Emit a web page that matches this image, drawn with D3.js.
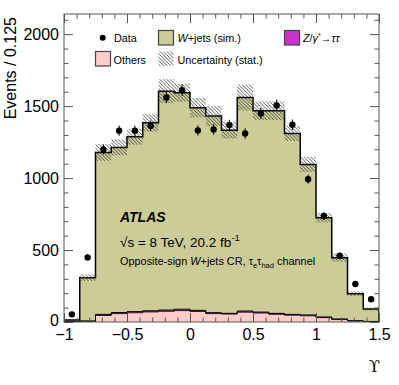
<!DOCTYPE html>
<html><head><meta charset="utf-8">
<script src="https://cdn.jsdelivr.net/npm/d3@7/dist/d3.min.js"></script>
<style>body{margin:0;background:#fff}svg{display:block;font-family:"Liberation Sans",Arial,Helvetica,sans-serif}</style>
</head><body><svg id="c" width="399" height="385"></svg>
<script>
// ---- data ----
const binLow = [-1,-0.875,-0.75,-0.625,-0.5,-0.375,-0.25,-0.125,0,0.125,0.25,0.375,0.5,0.625,0.75,0.875,1,1.125,1.25,1.375];
const binWidth = 0.125;
const others = [3,5,45,58,64,70,74,79,73,58,55,68,62,53,47,43,30,17,7,3];
const zjets  = [1,2,8,8,8,8,9,10,8,7,5,8,7,7,6,6,5,4,2,1];
const wjets  = [10,301,1125,1147,1215,1306,1521,1504,1407,1366,1273,1484,1399,1408,1257,1046,689,426,188,86];
const mcUnc  = [5,23,58,55,55,60,83,63,67,70,58,90,65,65,52,52,32,28,16,10];
const dataVals = [53,449,1199,1329,1329,1363,1560,1611,1331,1338,1368,1310,1449,1505,1370,992,736,460,264,158];
const dataErr  = [7,21,35,36,36,37,39,40,36,37,37,36,38,39,37,31,27,21,16,13];
const yTicks = [0,500,1000,1500,2000];
const yTickLabels = ["0","500","1000","1500","2000"];
const xTicks = [-1,-0.5,0,0.5,1,1.5];
const xTickLabels = ["\u22121","\u22120.5","0","0.5","1","1.5"];

const colW = "#cccc99", colO = "#ffcccc", colZ = "#cc33cc";

const svg = d3.select("#c");
const L=64, R=379, T=14, B=322;
const x = d3.scaleLinear().domain([-1,1.5]).range([L,R]);
const y = d3.scaleLinear().domain([0,2140]).range([B,T]);

const defs = svg.append("defs");
const pat = defs.append("pattern").attr("id","hatch").attr("patternUnits","userSpaceOnUse")
  .attr("width",3.5).attr("height",3.5);
pat.append("path").attr("d","M0,0 L3.5,3.5 M-1,2.5 L1,4.5 M2.5,-1 L4.5,1")
  .attr("stroke","#333").attr("stroke-width",0.8);
defs.append("clipPath").attr("id","clip").append("rect").attr("x",L).attr("y",T).attr("width",R-L).attr("height",B-T);

// stacked layers
const bins = binLow.map((lo,i)=>{
  const o = others[i], z = o + zjets[i], t = z + wjets[i];
  return {lo, hi: lo+binWidth, o, z, t, unc: mcUnc[i], d: dataVals[i], e: dataErr[i]};
});
function stepPts(b0, b1){
  const pts=[];
  bins.forEach(b=>{pts.push({x:b.lo,y0:b0(b),y1:b1(b)});pts.push({x:b.hi,y0:b0(b),y1:b1(b)});});
  return pts;
}
const area = d3.area().x(p=>x(p.x)).y0(p=>y(p.y0)).y1(p=>y(p.y1));
const g = svg.append("g").attr("clip-path","url(#clip)");
const layers = [
  {b0:b=>0, b1:b=>b.o, fill:colO, sw:0.8},
  {b0:b=>b.o, b1:b=>b.z, fill:colZ, sw:1},
  {b0:b=>b.z, b1:b=>b.t, fill:colW, sw:1.5}
];
layers.forEach(l=>{
  const pts = stepPts(l.b0,l.b1);
  g.append("path").attr("d",area(pts)).attr("fill",l.fill).attr("stroke","none");
});
layers.forEach(l=>{
  const pts = [{x:-1,v:0}].concat(stepPts(l.b0,l.b1).map(p=>({x:p.x,v:p.y1}))).concat([{x:1.5,v:0}]);
  g.append("path").attr("d",d3.line().x(p=>x(p.x)).y(p=>y(p.v))(pts))
    .attr("fill","none").attr("stroke","#000").attr("stroke-width",l.sw);
});
// uncertainty band
g.selectAll("rect.unc").data(bins).join("rect").attr("class","unc")
  .attr("x",b=>x(b.lo)).attr("width",b=>x(b.hi)-x(b.lo))
  .attr("y",b=>y(b.t+b.unc)).attr("height",b=>y(b.t-b.unc)-y(b.t+b.unc))
  .attr("fill","url(#hatch)");

// axes (ticks inside)
function axisG(axis, tr){ return svg.append("g").attr("transform",tr).call(axis); }
const styleAx = sel => { sel.select(".domain").remove(); sel.selectAll("line").attr("stroke","#555"); };
const fmtY = (d,i)=>yTickLabels[i];
const fmtX = (d,i)=>xTickLabels[i];
const yMinor = d3.range(0,2140,100).filter(v=>v%500);
const xMinor = d3.range(-1,1.5001,0.1).filter(v=>Math.abs(v*2-Math.round(v*2))>1e-6);

let a;
a = axisG(d3.axisLeft(y).tickValues(yTicks).tickFormat(fmtY).tickSize(-9).tickPadding(5), `translate(${L},0)`); styleAx(a);
a.selectAll("text").attr("font-size",16).attr("fill","#000").attr("font-family","Liberation Sans, Arial");
a.selectAll("text").filter(d=>d===0).attr("dy","0.22em");
a = axisG(d3.axisLeft(y).tickValues(yMinor).tickFormat("").tickSize(-4.5), `translate(${L},0)`); styleAx(a);
a = axisG(d3.axisRight(y).tickValues(yTicks).tickFormat("").tickSize(-9), `translate(${R},0)`); styleAx(a);
a = axisG(d3.axisRight(y).tickValues(yMinor).tickFormat("").tickSize(-4.5), `translate(${R},0)`); styleAx(a);
a = axisG(d3.axisBottom(x).tickValues(xTicks).tickFormat(fmtX).tickSize(-9).tickPadding(7), `translate(0,${B})`); styleAx(a);
a.selectAll("text").attr("font-size",16).attr("fill","#000").attr("font-family","Liberation Sans, Arial");
a = axisG(d3.axisBottom(x).tickValues(xMinor).tickFormat("").tickSize(-4.5), `translate(0,${B})`); styleAx(a);
a = axisG(d3.axisTop(x).tickValues(xTicks).tickFormat("").tickSize(-9), `translate(0,${T})`); styleAx(a);
a = axisG(d3.axisTop(x).tickValues(xMinor).tickFormat("").tickSize(-4.5), `translate(0,${T})`); styleAx(a);
svg.append("rect").attr("x",L).attr("y",T).attr("width",R-L).attr("height",B-T)
  .attr("fill","none").attr("stroke","#555").attr("stroke-width",1);

// data points
const dg = svg.append("g");
dg.selectAll("line").data(bins).join("line")
  .attr("x1",b=>x(b.lo+binWidth/2)).attr("x2",b=>x(b.lo+binWidth/2))
  .attr("y1",b=>y(b.d-b.e)).attr("y2",b=>y(b.d+b.e)).attr("stroke","#000").attr("stroke-width",1);
dg.selectAll("circle").data(bins).join("circle")
  .attr("cx",b=>x(b.lo+binWidth/2)).attr("cy",b=>y(b.d)).attr("r",3.2).attr("fill","#000");

// axis titles
svg.append("text").attr("transform","translate(16,17) rotate(-90)").attr("text-anchor","end")
  .attr("font-size",16).text("Events / 0.125");
svg.append("text").attr("x",380).attr("y",372).attr("text-anchor","end")
  .attr("font-family","DejaVu Serif, Liberation Serif, serif").attr("font-size",16).text("\u03d2");

// legend
const lg = svg.append("g").attr("font-size",10.8);
lg.append("circle").attr("cx",102.7).attr("cy",37.7).attr("r",3).attr("fill","#000");
lg.append("text").attr("x",114).attr("y",42.3).text("Data");
lg.append("rect").attr("x",158.5).attr("y",30.5).attr("width",15).attr("height",14.5).attr("fill",colW).attr("stroke","#444").attr("stroke-width",1.2);
let t = lg.append("text").attr("x",177.5).attr("y",42.3);
t.append("tspan").attr("font-style","italic").text("W");
t.append("tspan").text("+jets (sim.)");
lg.append("rect").attr("x",284.5).attr("y",30.5).attr("width",15).attr("height",14.5).attr("fill",colZ).attr("stroke","#444").attr("stroke-width",1.2);
t = lg.append("text").attr("x",303).attr("y",42.3);
t.append("tspan").attr("font-style","italic").text("Z");
t.append("tspan").text("/");
t.append("tspan").attr("font-style","italic").text("\u03b3");
t.append("tspan").attr("font-size",7).attr("dy",-4).text("*");
t.append("tspan").attr("dy",4).text("\u2192");
t.append("tspan").attr("font-style","italic").text("\u03c4\u03c4");
lg.append("rect").attr("x",95.5).attr("y",51.5).attr("width",15).attr("height",14.5).attr("fill",colO).attr("stroke","#444").attr("stroke-width",1.2);
lg.append("text").attr("x",113.5).attr("y",64.3).text("Others");
lg.append("rect").attr("x",158.5).attr("y",51.5).attr("width",15).attr("height",14.5).attr("fill","url(#hatch)");
lg.append("text").attr("x",177.5).attr("y",64.3).text("Uncertainty (stat.)");

// ATLAS labels
svg.append("text").attr("x",120).attr("y",222).attr("font-size",14).attr("font-weight","bold").attr("font-style","italic").text("ATLAS");
t = svg.append("text").attr("x",120).attr("y",247).attr("font-size",13.5);
t.append("tspan").text("\u221as = 8 TeV, 20.2 fb");
t.append("tspan").attr("font-size",9.5).attr("dy",-6).text("-1");
t = svg.append("text").attr("x",120).attr("y",265).attr("font-size",10.9);
t.append("tspan").text("Opposite-sign ");
t.append("tspan").attr("font-style","italic").text("W");
t.append("tspan").text("+jets CR, \u03c4");
t.append("tspan").attr("font-size",7.5).attr("dy",2.5).text("e");
t.append("tspan").attr("dy",-2.5).text("\u03c4");
t.append("tspan").attr("font-size",7.5).attr("dy",2.5).text("had");
t.append("tspan").attr("dy",-2.5).text(" channel");
</script></body></html>
